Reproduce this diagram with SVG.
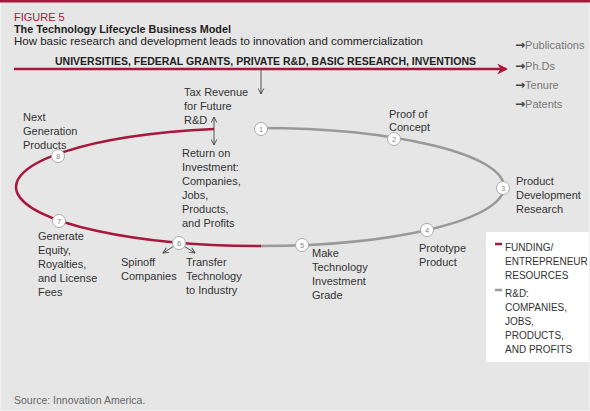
<svg xmlns="http://www.w3.org/2000/svg" width="590" height="411" viewBox="0 0 590 411">
<defs>
<marker id="open" viewBox="0 0 10 10" refX="9" refY="5" markerWidth="7" markerHeight="7" markerUnits="userSpaceOnUse" orient="auto-start-reverse">
<path d="M1,1 L9,5 L1,9" fill="none" stroke="#444" stroke-width="1.3"/>
</marker>
<marker id="red" viewBox="0 0 10 10" refX="8" refY="5" markerWidth="11" markerHeight="11" markerUnits="userSpaceOnUse" orient="auto">
<path d="M0,0 L10,5 L0,10 L3,5 Z" fill="#a8173d"/>
</marker>
<style>
text{font-family:"Liberation Sans",Arial,sans-serif;}
.lbl{font-size:11px;fill:#333;}
.num{font-size:7.5px;fill:#888;text-anchor:middle;}
.node circle{fill:#fff;stroke:#aaa;stroke-width:1;}
.leg{font-size:10px;fill:#333;}
.side{font-size:11px;fill:#777;}
.arr{font-family:"DejaVu Sans",sans-serif;font-size:12px;font-weight:bold;fill:#444;}
.thin{fill:none;stroke:#444;stroke-width:0.9;}
</style>
</defs>
<rect x="0" y="0" width="590" height="411" fill="#e6e6e6"/>
<rect x="0.5" y="0.5" width="589" height="410" fill="none" stroke="#f0f0f0"/>
<rect x="0" y="0" width="590" height="2.5" fill="#a8173d"/>

<text x="14" y="21" style="font-size:11px;fill:#a8173d">FIGURE 5</text>
<text x="14" y="33" style="font-size:11px;font-weight:bold;fill:#222" textLength="217" lengthAdjust="spacingAndGlyphs">The Technology Lifecycle Business Model</text>
<text x="14" y="45" style="font-size:11px;fill:#222" textLength="409" lengthAdjust="spacingAndGlyphs">How basic research and development leads to innovation and commercialization</text>

<g id="top-bar">
<text x="55" y="65" style="font-size:11px;font-weight:bold;fill:#222" textLength="421" lengthAdjust="spacingAndGlyphs">UNIVERSITIES, FEDERAL GRANTS, PRIVATE R&amp;D, BASIC RESEARCH, INVENTIONS</text>
</g>
<g id="outputs">
<text class="side" x="515" y="49"><tspan class="arr">→</tspan>Publications</text>
<text class="side" x="515" y="70"><tspan class="arr">→</tspan>Ph.Ds</text>
<text class="side" x="515" y="89"><tspan class="arr">→</tspan>Tenure</text>
<text class="side" x="515" y="108"><tspan class="arr">→</tspan>Patents</text>
</g>

<g id="connectors">
<line x1="14" y1="69" x2="506" y2="69" stroke="#a8173d" stroke-width="2.5" marker-end="url(#red)"/>
<line class="thin" x1="261" y1="70" x2="261" y2="94" marker-end="url(#open)"/>
<line class="thin" x1="214" y1="117" x2="214" y2="145" marker-start="url(#open)" marker-end="url(#open)"/>
<line class="thin" x1="179" y1="243" x2="163" y2="253" marker-end="url(#open)"/>
<line class="thin" x1="179" y1="243" x2="195" y2="253" marker-end="url(#open)"/>
<path d="M260,128 A244,59 0 0 1 260,246" fill="none" stroke="#999" stroke-width="2.5"/>
<path d="M214,129.06 A244,59 0 0 0 261,246" fill="none" stroke="#a8173d" stroke-width="2.5"/>
</g>

<g id="tax">
<text class="lbl" x="184" y="96">Tax Revenue</text>
<text class="lbl" x="184" y="110">for Future</text>
<text class="lbl" x="184" y="124">R&amp;D</text>
</g>
<g id="roi">
<text class="lbl" x="182" y="157">Return on</text>
<text class="lbl" x="182" y="171">Investment:</text>
<text class="lbl" x="182" y="185">Companies,</text>
<text class="lbl" x="182" y="199">Jobs,</text>
<text class="lbl" x="182" y="213">Products,</text>
<text class="lbl" x="182" y="227">and Profits</text>
</g>

<g id="node1" class="node"><circle cx="261" cy="129" r="6.5"/><text class="num" x="261" y="131.7">1</text></g>
<g id="node2" class="node"><circle cx="394" cy="139" r="6.5"/><text class="num" x="394" y="141.7">2</text>
<text class="lbl" x="389" y="118">Proof of</text><text class="lbl" x="389" y="131">Concept</text></g>
<g id="node3" class="node"><circle cx="503" cy="188" r="6.5"/><text class="num" x="503" y="190.7">3</text>
<text class="lbl" x="516" y="185">Product</text><text class="lbl" x="516" y="199">Development</text><text class="lbl" x="516" y="213">Research</text></g>
<g id="node4" class="node"><circle cx="427" cy="230" r="6.5"/><text class="num" x="427" y="232.7">4</text>
<text class="lbl" x="419" y="252">Prototype</text><text class="lbl" x="419" y="266">Product</text></g>
<g id="node5" class="node"><circle cx="302" cy="245" r="6.5"/><text class="num" x="302" y="247.7">5</text>
<text class="lbl" x="312" y="257">Make</text><text class="lbl" x="312" y="271">Technology</text><text class="lbl" x="312" y="285">Investment</text><text class="lbl" x="312" y="299">Grade</text></g>
<g id="node6" class="node"><circle cx="179" cy="243" r="6.5"/><text class="num" x="179" y="245.7">6</text>
<text class="lbl" x="121" y="266">Spinoff</text><text class="lbl" x="121" y="280">Companies</text>
<text class="lbl" x="186" y="266">Transfer</text><text class="lbl" x="186" y="280">Technology</text><text class="lbl" x="186" y="294">to Industry</text></g>
<g id="node7" class="node"><circle cx="59" cy="221" r="6.5"/><text class="num" x="59" y="223.7">7</text>
<text class="lbl" x="38" y="240">Generate</text><text class="lbl" x="38" y="254">Equity,</text><text class="lbl" x="38" y="268">Royalties,</text><text class="lbl" x="38" y="282">and License</text><text class="lbl" x="38" y="296">Fees</text></g>
<g id="node8" class="node"><circle cx="58" cy="156" r="6.5"/><text class="num" x="58" y="158.7">8</text>
<text class="lbl" x="23" y="121">Next</text><text class="lbl" x="23" y="135">Generation</text><text class="lbl" x="23" y="149">Products</text></g>

<g id="legend">
<rect x="486" y="232" width="103" height="130" fill="#fff"/>
<line x1="495" y1="244" x2="502" y2="244" stroke="#a8173d" stroke-width="2.5"/>
<text class="leg" x="505" y="251">FUNDING/</text>
<text class="leg" x="505" y="265">ENTREPRENEUR</text>
<text class="leg" x="505" y="279">RESOURCES</text>
<line x1="495" y1="290" x2="502" y2="290" stroke="#999" stroke-width="2.5"/>
<text class="leg" x="505" y="297">R&amp;D:</text>
<text class="leg" x="505" y="311">COMPANIES,</text>
<text class="leg" x="505" y="325">JOBS,</text>
<text class="leg" x="505" y="339">PRODUCTS,</text>
<text class="leg" x="505" y="353">AND PROFITS</text>
</g>

<text x="14" y="404" style="font-size:10.5px;fill:#666">Source: Innovation America.</text>
</svg>
